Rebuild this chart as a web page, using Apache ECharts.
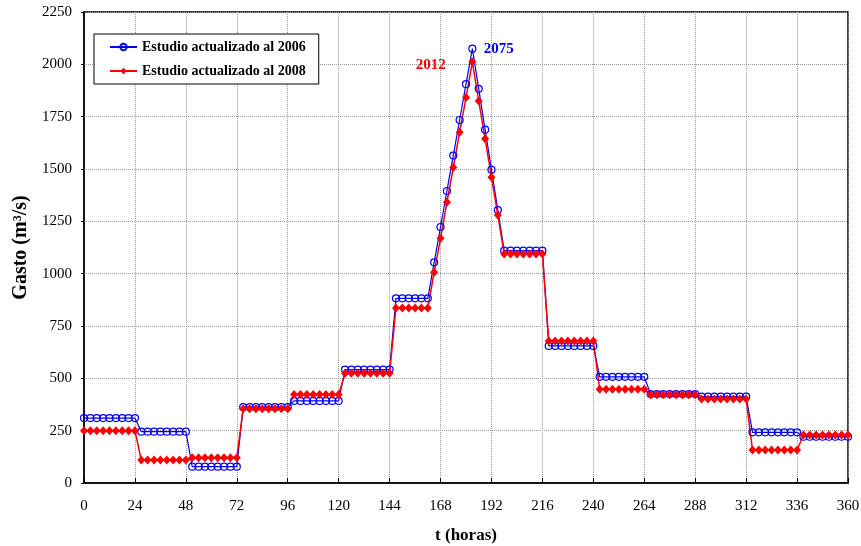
<!DOCTYPE html>
<html lang="es">
<head>
  <meta charset="UTF-8">
  <title>Gasto vs t</title>
  <script src="https://cdn.jsdelivr.net/npm/echarts@6/dist/echarts.min.js"></script>
  <style>
    html, body { margin: 0; padding: 0; background: #fff; }
    #chart { width: 861px; height: 546px; }
  </style>
</head>
<body>
  <div id="chart"></div>
  <script>
    // time in hours, one point every 3 h
    const hours = [
      0, 3, 6, 9, 12, 15, 18, 21, 24,
      27, 30, 33, 36, 39, 42, 45, 48,
      51, 54, 57, 60, 63, 66, 69, 72,
      75, 78, 81, 84, 87, 90, 93, 96,
      99, 102, 105, 108, 111, 114, 117, 120,
      123, 126, 129, 132, 135, 138, 141, 144,
      147, 150, 153, 156, 159, 162,
      165, 168, 171, 174, 177, 180, 183, 186, 189, 192, 195,
      198, 201, 204, 207, 210, 213, 216,
      219, 222, 225, 228, 231, 234, 237, 240,
      243, 246, 249, 252, 255, 258, 261, 264,
      267, 270, 273, 276, 279, 282, 285, 288,
      291, 294, 297, 300, 303, 306, 309, 312,
      315, 318, 321, 324, 327, 330, 333, 336,
      339, 342, 345, 348, 351, 354, 357, 360
    ];

    const estudio2006 = [
      310, 310, 310, 310, 310, 310, 310, 310, 310,
      245, 245, 245, 245, 245, 245, 245, 245,
      78, 78, 78, 78, 78, 78, 78, 78,
      362, 362, 362, 362, 362, 362, 362, 362,
      392, 392, 392, 392, 392, 392, 392, 392,
      542, 542, 542, 542, 542, 542, 542, 542,
      882, 882, 882, 882, 882, 882,
      1054, 1223, 1395, 1564, 1734, 1905, 2075, 1883, 1688, 1497, 1304,
      1110, 1110, 1110, 1110, 1110, 1110, 1110,
      655, 655, 655, 655, 655, 655, 655, 655,
      507, 507, 507, 507, 507, 507, 507, 507,
      425, 425, 425, 425, 425, 425, 425, 425,
      413, 413, 413, 413, 413, 413, 413, 413,
      242, 242, 242, 242, 242, 242, 242, 242,
      221, 221, 221, 221, 221, 221, 221, 221
    ];

    const estudio2008 = [
      250, 250, 250, 250, 250, 250, 250, 250, 250,
      110, 110, 110, 110, 110, 110, 110, 110,
      121, 121, 121, 121, 121, 121, 121, 121,
      355, 355, 355, 355, 355, 355, 355, 355,
      423, 423, 423, 423, 423, 423, 423, 423,
      524, 524, 524, 524, 524, 524, 524, 524,
      836, 836, 836, 836, 836, 836,
      1007, 1169, 1341, 1507, 1676, 1841, 2012, 1825, 1645, 1461, 1280,
      1094, 1094, 1094, 1094, 1094, 1094, 1094,
      678, 678, 678, 678, 678, 678, 678, 678,
      448, 448, 448, 448, 448, 448, 448, 448,
      422, 422, 422, 422, 422, 422, 422, 422,
      401, 401, 401, 401, 401, 401, 401, 401,
      158, 158, 158, 158, 158, 158, 158, 158,
      229, 229, 229, 229, 229, 229, 229, 229
    ];

    const seriesNames = ['Estudio actualizado al 2006', 'Estudio actualizado al 2008'];

    const serif = "'Liberation Serif', 'Times New Roman', serif";
    const chart = echarts.init(document.getElementById('chart'));

    const pairs = (ys) => hours.map((h, i) => [h, ys[i]]);

    // peak labels ("2075", "2012") sit next to each series' max point
    function peakLabel(color, position, distance, offset) {
      return {
        symbol: 'circle',
        symbolSize: 1,
        itemStyle: { color: 'rgba(0,0,0,0)' },
        data: [{ type: 'max' }],
        label: {
          show: true, position: position, distance: distance, offset: offset,
          fontFamily: serif, fontWeight: 'bold', fontSize: 15, color: color,
          formatter: (p) => String(p.value)
        }
      };
    }

    const option = {
      animation: false,
      textStyle: { fontFamily: serif },
      grid: {
        left: 84, top: 12, width: 764, height: 471,
        outerBoundsMode: 'none',
        show: true, borderColor: '#000', borderWidth: 1.5
      },
      legend: {
        orient: 'vertical',
        left: 94, top: 34,
        padding: [6, 13, 6, 15],
        itemWidth: 27, itemHeight: 8, itemGap: 10,
        backgroundColor: '#fff',
        borderColor: '#000', borderWidth: 1,
        textStyle: { fontFamily: serif, fontWeight: 'bold', fontSize: 14, color: '#000' },
        data: seriesNames
      },
      xAxis: {
        type: 'value', min: 0, max: 360, interval: 24,
        name: 't (horas)', nameLocation: 'middle', nameGap: 44,
        nameTextStyle: { fontFamily: serif, fontWeight: 'bold', fontSize: 17, color: '#000' },
        axisLine: { lineStyle: { color: '#000', width: 1.5 } },
        axisTick: { inside: true, length: 5, lineStyle: { color: '#000' } },
        axisLabel: { fontFamily: serif, fontSize: 15, color: '#000', margin: 16 },
        splitLine: { show: true, lineStyle: { color: '#999', type: 'dotted', width: 1 } }
      },
      yAxis: {
        type: 'value', min: 0, max: 2250, interval: 250,
        name: 'Gasto (m³/s)', nameLocation: 'middle', nameGap: 52, nameRotate: 90,
        nameTextStyle: { fontFamily: serif, fontWeight: 'bold', fontSize: 20, color: '#000' },
        axisLine: { show: true, lineStyle: { color: '#000', width: 1.5 } },
        axisTick: { show: true, inside: false, length: 3, lineStyle: { color: '#000' } },
        axisLabel: { fontFamily: serif, fontSize: 15, color: '#000', margin: 12, formatter: (v) => String(v) },
        splitLine: { show: true, lineStyle: { color: '#999', type: 'dotted', width: 1 } }
      },
      series: [
        {
          name: seriesNames[0],
          type: 'line',
          data: pairs(estudio2006),
          symbol: 'circle',
          symbolSize: 7,
          lineStyle: { color: '#0000ff', width: 1.2 },
          itemStyle: { color: 'rgba(255,255,255,0)', borderColor: '#0000ff', borderWidth: 1.2 },
          markPoint: peakLabel('#0000ff', 'right', 11, [0, 0])
        },
        {
          name: seriesNames[1],
          type: 'line',
          data: pairs(estudio2008),
          symbol: 'diamond',
          symbolSize: [8, 9],
          lineStyle: { color: '#ff0000', width: 1.5 },
          itemStyle: { color: '#ff0000' },
          markPoint: peakLabel('#ff0000', 'left', 26, [0, 3])
        }
      ]
    };

    chart.setOption(option);
  </script>
</body>
</html>
